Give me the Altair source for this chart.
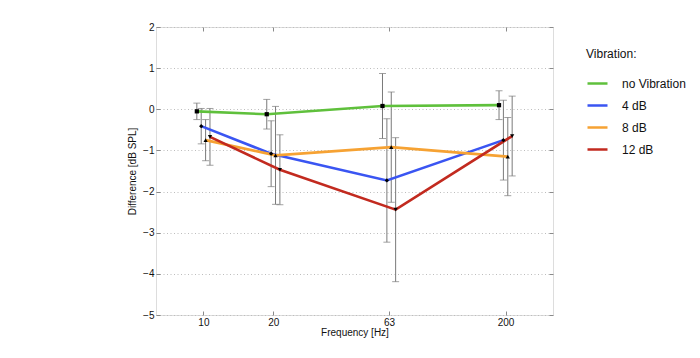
import altair as alt
import pandas as pd

freqs = [10, 20, 63, 200]
series = ["no Vibration", "4 dB", "8 dB", "12 dB"]
colors = ["#5fc03c", "#3a55f2", "#f6a233", "#c22a1f"]
shapes = ["square", "diamond", "triangle-up", "triangle-down"]

mean_none = [-0.05, -0.12, 0.08, 0.10]
mean_4 = [-0.41, -1.08, -1.73, -0.75]
mean_8 = [-0.75, -1.12, -0.92, -1.15]
mean_12 = [-0.67, -1.47, -2.44, -0.65]

err_none = [0.20, 0.36, 0.79, 0.35]
err_4 = [0.43, 0.80, 1.50, 0.97]
err_8 = [0.50, 1.19, 1.34, 0.95]
err_12 = [0.69, 0.85, 1.75, 0.97]

y_ticks = [-5, -4, -3, -2, -1, 0, 1, 2]

means = [mean_none, mean_4, mean_8, mean_12]
errs = [err_none, err_4, err_8, err_12]
rows = []
for k, s in enumerate(series):
    for j, f in enumerate(freqs):
        rows.append({"series": s, "k": k, "freq": f, "mean": means[k][j], "err": errs[k][j]})
df = pd.DataFrame(rows)

FONT = "Liberation Sans"
xscale = alt.Scale(type="log", domain=[6.25, 320], nice=False)
yscale = alt.Scale(domain=[-5, 2], nice=False, zero=False)

x_axis = alt.Axis(values=freqs, format="d", title="Frequency [Hz]", orient="bottom",
                  offset=-4, tickSize=4, domain=False, grid=False, labelPadding=2,
                  titlePadding=0, tickColor="#8a8a8a", labelFontSize=10,
                  titleFontSize=10, labelColor="#111", titleColor="#111",
                  titleFontWeight="normal", labelFont=FONT, titleFont=FONT)
y_axis = alt.Axis(values=y_ticks, title="Difference [dB SPL]", orient="left",
                  offset=-4, tickSize=4, domain=False, grid=True,
                  gridDash=[1, 2.5], gridColor="#bdbdbd", labelPadding=2,
                  titlePadding=5, tickColor="#8a8a8a", labelFontSize=10,
                  titleFontSize=10, labelColor="#111", titleColor="#111",
                  titleFontWeight="normal", labelFont=FONT, titleFont=FONT)

X = alt.X("xpos:Q", scale=xscale, axis=x_axis)
YM = alt.Y("mean:Q", scale=yscale, axis=y_axis)

base = alt.Chart(df).transform_calculate(
    xpos="datum.freq * pow(1.0444, datum.k - 1.5)",
    lo="datum.mean - datum.err",
    hi="datum.mean + datum.err",
)

bars = base.mark_rule(color="#7a7a7a", strokeWidth=1).encode(
    x=X, y=alt.Y("lo:Q", scale=yscale, axis=y_axis), y2="hi:Q")
cap_lo = base.mark_tick(orient="horizontal", size=7, thickness=1, color="#7a7a7a").encode(
    x=X, y=alt.Y("lo:Q", scale=yscale, axis=y_axis))
cap_hi = base.mark_tick(orient="horizontal", size=7, thickness=1, color="#7a7a7a").encode(
    x=X, y=alt.Y("hi:Q", scale=yscale, axis=y_axis))

lines = base.mark_line(strokeWidth=2.6).encode(
    x=X, y=YM,
    color=alt.Color("series:N", scale=alt.Scale(domain=series, range=colors), sort=series,
                    legend=alt.Legend(title="Vibration:", orient="none", legendX=430, legendY=22,
                                      symbolType="stroke", symbolSize=400, symbolStrokeWidth=2.5,
                                      labelFontSize=12, titleFontSize=12, titleFontWeight="normal",
                                      labelOffset=13, rowPadding=4, titlePadding=11,
                                      labelFont=FONT, titleFont=FONT, labelColor="#111",
                                      titleColor="#111")),
    detail="series:N",
)

point_layers = [
    base.transform_filter(alt.datum.series == s)
        .mark_point(filled=True, color="black", size=18, opacity=1, shape=shp)
        .encode(x=X, y=YM)
    for s, shp in zip(series, shapes)
]

main = alt.layer(bars, cap_lo, cap_hi, lines, *point_layers)

frame = alt.Chart(df).mark_point(opacity=0).encode(
    x=alt.X("freq:Q", scale=xscale,
            axis=alt.Axis(orient="top", values=freqs, labels=False, title=None, offset=-4,
                          tickSize=4, domain=False, grid=False, tickColor="#8a8a8a")),
    y=alt.Y("mean:Q", scale=yscale,
            axis=alt.Axis(orient="right", values=y_ticks, labels=False, title=None, offset=-4,
                          tickSize=4, domain=False, grid=False, tickColor="#8a8a8a")),
)

chart = alt.layer(main, frame).resolve_scale(x="independent", y="independent").properties(
    width=397, height=288,
    autosize=alt.AutoSizeParams(type="none"),
    padding={"left": 148, "top": 19, "right": 139, "bottom": 35},
).configure_view(stroke="#8a8a8a", strokeWidth=1).configure(font=FONT)

chart.save("out.html", embed_options={"renderer": "svg", "actions": False})
